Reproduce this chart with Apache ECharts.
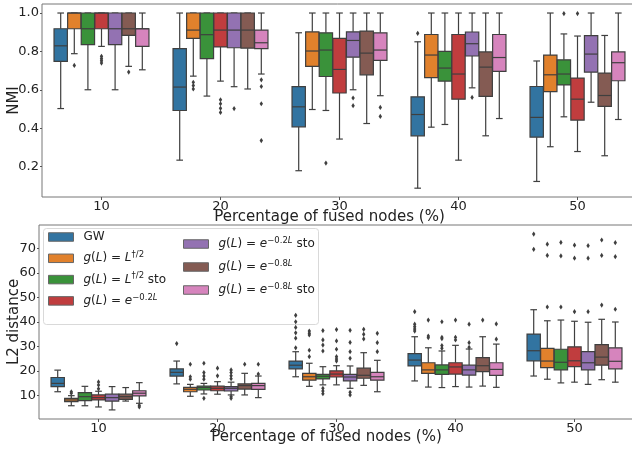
<!DOCTYPE html>
<html>
<head>
<meta charset="utf-8">
<script src="https://cdn.jsdelivr.net/npm/echarts@6/dist/echarts.min.js"></script>
<style>
  html, body { margin: 0; padding: 0; background: #fff; }
  #chart { width: 632px; height: 454px; }
</style>
</head>
<body>
<div id="chart"></div>
<script>
// categories and hue groups
const categories = ['10', '20', '30', '40', '50'];
const hueNames = ['GW', 'g(L) = L^1/2', 'g(L) = L^1/2 sto', 'g(L) = e^-0.2L',
  'g(L) = e^-0.2L sto', 'g(L) = e^-0.8L', 'g(L) = e^-0.8L sto'];
const colors = ['#3274a1', '#e1812c', '#3a923a', '#c03d3e', '#9372b2', '#845b53', '#d684bd'];
const nmiTicks = [0.2, 0.4, 0.6, 0.8, 1.0];
const l2Ticks = [10, 20, 30, 40, 50, 60, 70];

// NMI box stats per category: [lower whisker, q1, median, q3, upper whisker]
const nmiGW = [[0.502, 0.748, 0.829, 0.918, 1.0], [0.233, 0.492, 0.614, 0.814, 1.0], [0.178, 0.407, 0.511, 0.616, 0.897], [0.087, 0.360, 0.471, 0.563, 0.850], [0.122, 0.353, 0.456, 0.617, 0.750]];
const nmiL = [[0.788, 0.918, 1.0, 1.0, 1.0], [0.671, 0.868, 0.911, 1.0, 1.0], [0.497, 0.722, 0.802, 0.902, 1.0], [0.405, 0.663, 0.781, 0.888, 1.0], [0.303, 0.590, 0.678, 0.781, 1.0]];
const nmiLsto = [[0.600, 0.835, 0.918, 1.0, 1.0], [0.567, 0.762, 0.887, 1.0, 1.0], [0.492, 0.669, 0.807, 0.897, 1.0], [0.419, 0.645, 0.713, 0.800, 1.0], [0.459, 0.625, 0.682, 0.756, 0.891]];
const nmiE2 = [[0.826, 0.918, 1.0, 1.0, 1.0], [0.645, 0.823, 0.911, 1.0, 1.0], [0.343, 0.583, 0.706, 0.868, 1.0], [0.233, 0.551, 0.682, 0.888, 1.0], [0.278, 0.442, 0.551, 0.661, 0.880]];
const nmiE2sto = [[0.600, 0.835, 0.918, 1.0, 1.0], [0.616, 0.819, 0.911, 1.0, 1.0], [0.600, 0.770, 0.857, 0.902, 1.0], [0.610, 0.776, 0.840, 0.901, 1.0], [0.535, 0.692, 0.786, 0.882, 1.0]];
const nmiE8 = [[0.722, 0.883, 0.918, 1.0, 1.0], [0.604, 0.817, 0.911, 1.0, 1.0], [0.424, 0.678, 0.791, 0.906, 1.0], [0.360, 0.565, 0.718, 0.797, 1.0], [0.256, 0.513, 0.570, 0.687, 0.883]];
const nmiE8sto = [[0.704, 0.826, 0.918, 0.918, 1.0], [0.682, 0.814, 0.845, 0.911, 1.0], [0.569, 0.753, 0.807, 0.897, 1.0], [0.450, 0.696, 0.768, 0.888, 1.0], [0.445, 0.647, 0.741, 0.797, 1.0]];

// NMI outliers per category
const nmiGWOut = [[], [], [], [0.894], []];
const nmiLOut = [[0.727], [0.639, 0.622, 0.604], [], [], []];
const nmiLstoOut = [[], [], [0.218], [], [0.997]];
const nmiE2Out = [[0.774, 0.762, 0.751, 0.739], [0.548, 0.527, 0.503, 0.482], [], [], [0.997]];
const nmiE2stoOut = [[], [0.502], [0.557, 0.517], [0.560], []];
const nmiE8Out = [[0.692], [], [], [], []];
const nmiE8stoOut = [[], [0.652, 0.617, 0.527, 0.335], [0.508, 0.461], [], []];

// L2 distance box stats per category
const l2GW = [[11.6, 13.7, 15.0, 17.4, 20.4], [14.8, 18.0, 19.5, 20.9, 24.1], [17.7, 20.9, 22.4, 24.1, 27.9], [16.0, 22.1, 24.5, 27.1, 34.0], [18.0, 24.2, 28.3, 35.1, 45.0]];
const l2L = [[5.9, 7.6, 8.25, 8.9, 10.0], [9.75, 11.6, 12.6, 13.4, 14.6], [13.8, 16.3, 17.7, 19.1, 23.2], [13.5, 19.1, 20.5, 23.4, 29.5], [16.7, 21.4, 24.1, 29.3, 40.5]];
const l2Lsto = [[5.9, 8.0, 9.6, 11.2, 13.8], [10.7, 12.3, 13.3, 13.9, 15.0], [14.4, 16.8, 17.9, 18.7, 21.8], [13.3, 18.7, 20.5, 22.5, 28.2], [15.2, 20.5, 23.6, 28.9, 40.8]];
const l2E2 = [[5.4, 8.25, 9.2, 10.3, 11.8], [10.6, 12.0, 13.0, 13.9, 15.7], [14.4, 17.6, 18.8, 20.1, 22.2], [13.7, 18.8, 21.7, 23.4, 30.5], [15.5, 21.8, 24.2, 29.9, 40.3]];
const l2E2sto = [[4.2, 7.8, 9.2, 10.6, 13.7], [10.3, 11.9, 13.0, 13.7, 15.5], [13.0, 16.0, 17.6, 18.7, 22.1], [13.5, 18.4, 20.5, 22.4, 29.0], [14.6, 20.5, 23.4, 27.9, 39.9]];
const l2E8 = [[7.8, 8.5, 9.6, 10.6, 13.3], [10.3, 12.7, 14.1, 14.8, 19.1], [14.2, 17.1, 18.3, 21.2, 27.5], [13.9, 19.8, 22.2, 25.5, 34.0], [16.5, 22.4, 25.7, 30.8, 41.1]];
const l2E8sto = [[6.9, 9.9, 11.0, 12.0, 15.3], [9.2, 12.6, 14.1, 15.0, 18.0], [11.6, 16.3, 17.7, 19.5, 24.4], [13.4, 18.3, 20.7, 23.4, 31.0], [15.5, 20.9, 24.0, 29.5, 40.0]];

// L2 distance outliers per category
const l2GWOut = [[], [31.2], [42.7, 40.1, 37.8, 35.6, 33.4, 29.5], [44.2, 39.1, 38.1, 37.1, 36.3], [75.8, 69.6]];
const l2LOut = [[11.6, 11.0], [22.8, 17.7, 16.7], [36.3, 35.4, 34.7, 28.5, 25.9], [40.8, 34.3, 33.6], [71.7, 67.1, 46.1]];
const l2LstoOut = [[], [23.2, 19.4, 18.0, 16.7, 8.9], [36.5, 32.7, 30.6, 28.2, 13.0, 11.9, 10.8], [40.1, 33.8, 33.2, 30.4, 29.3], [72.4, 66.9, 46.1]];
const l2E2Out = [[15.6, 14.3, 12.8], [21.2, 18.1], [36.9, 32.3, 28.9, 25.9, 24.9, 24.1], [40.8, 33.8, 32.7], [71.3, 66.0, 44.2]];
const l2E2stoOut = [[], [20.5, 19.4, 18.1, 16.9, 9.6, 8.9], [36.6, 31.7, 27.9, 25.2, 11.4, 10.3], [39.1, 31.6, 29.7], [71.1, 66.0, 44.2]];
const l2E8Out = [[], [22.8], [37.0, 35.0, 33.1], [40.8], [73.4, 67.1, 46.9]];
const l2E8stoOut = [[6.1, 5.4], [22.8, 18.8], [35.4, 31.6, 27.9], [39.2, 33.0], [72.3, 66.6, 45.2]];

const nmiStats = [nmiGW, nmiL, nmiLsto, nmiE2, nmiE2sto, nmiE8, nmiE8sto];
const nmiOut = [nmiGWOut, nmiLOut, nmiLstoOut, nmiE2Out, nmiE2stoOut, nmiE8Out, nmiE8stoOut];
const l2Stats = [l2GW, l2L, l2Lsto, l2E2, l2E2sto, l2E8, l2E8sto];
const l2Out = [l2GWOut, l2LOut, l2LstoOut, l2E2Out, l2E2stoOut, l2E8Out, l2E8stoOut];

const EDGE = '#3f3f3f';
const FONT = 'DejaVu Sans';
const TEXT = '#222';

// rich legend labels (mathtext look)
const legendLabels = [
  '{n|GW}',
  '{i|g}{n|(}{i|L}{n|) = }{i|L}{s|†/2}',
  '{i|g}{n|(}{i|L}{n|) = }{i|L}{s|†/2}{n| sto}',
  '{i|g}{n|(}{i|L}{n|) = }{i|e}{s|−0.2}{si|L}',
  '{i|g}{n|(}{i|L}{n|) = }{i|e}{s|−0.2}{si|L}{n| sto}',
  '{i|g}{n|(}{i|L}{n|) = }{i|e}{s|−0.8}{si|L}',
  '{i|g}{n|(}{i|L}{n|) = }{i|e}{s|−0.8}{si|L}{n| sto}'
];

function boxRenderer(hue) {
  return function (params, api) {
    const cat = api.value(0);
    const band = api.size([1, 0])[0];
    const step = band * 0.8 / 7;
    const half = step * 0.98 / 2;
    const cx = api.coord([cat, 0])[0] + (hue - 3) * step;
    const y = i => api.coord([cat, api.value(i)])[1];
    const lo = y(1), q1 = y(2), med = y(3), q3 = y(4), hi = y(5);
    const ln = { stroke: EDGE, lineWidth: 1.2 };
    return {
      type: 'group',
      children: [
        { type: 'line', shape: { x1: cx, y1: lo, x2: cx, y2: q1 }, style: ln },
        { type: 'line', shape: { x1: cx, y1: q3, x2: cx, y2: hi }, style: ln },
        { type: 'line', shape: { x1: cx - half / 2, y1: lo, x2: cx + half / 2, y2: lo }, style: ln },
        { type: 'line', shape: { x1: cx - half / 2, y1: hi, x2: cx + half / 2, y2: hi }, style: ln },
        { type: 'rect', shape: { x: cx - half, y: q3, width: half * 2, height: q1 - q3 },
          style: { fill: api.visual('color'), stroke: EDGE, lineWidth: 1.2 } },
        { type: 'line', shape: { x1: cx - half, y1: med, x2: cx + half, y2: med }, style: ln }
      ]
    };
  };
}

function outRenderer(hue) {
  return function (params, api) {
    const cat = api.value(0);
    const band = api.size([1, 0])[0];
    const step = band * 0.8 / 7;
    const p = api.coord([cat, api.value(1)]);
    const x = p[0] + (hue - 3) * step;
    return {
      type: 'polygon',
      shape: { points: [[x, p[1] - 2.6], [x + 1.7, p[1]], [x, p[1] + 2.6], [x - 1.7, p[1]]] },
      style: { fill: EDGE }
    };
  };
}

function buildSeries(stats, outs, axisIdx) {
  const list = [];
  stats.forEach((s, h) => {
    list.push({
      name: hueNames[h], type: 'custom', xAxisIndex: axisIdx, yAxisIndex: axisIdx,
      itemStyle: { color: colors[h] },
      renderItem: boxRenderer(h),
      encode: { x: 0, y: [1, 2, 3, 4, 5] },
      data: s.map((v, c) => [c].concat(v)),
      z: 2
    });
  });
  outs.forEach((o, h) => {
    const pts = [];
    o.forEach((vals, c) => vals.forEach(v => pts.push([c, v])));
    list.push({
      name: hueNames[h], type: 'custom', xAxisIndex: axisIdx, yAxisIndex: axisIdx,
      itemStyle: { color: colors[h] },
      renderItem: outRenderer(h),
      encode: { x: 0, y: 1 },
      data: pts,
      z: 3
    });
  });
  return list;
}

const chart = echarts.init(document.getElementById('chart'), null, { renderer: 'canvas' });

const xAxisBase = {
  type: 'category',
  data: categories,
  axisLine: { show: false },
  axisTick: { show: true, alignWithLabel: true, length: 3, lineStyle: { color: '#555' } },
  axisLabel: { color: TEXT, fontSize: 13, fontFamily: FONT, margin: 3 },
  splitLine: { show: false },
  name: 'Percentage of fused nodes (%)',
  nameLocation: 'middle',
  nameMoveOverlap: false,
  nameTextStyle: { color: TEXT, fontSize: 15, fontFamily: FONT, padding: [0, 20, 0, 0] }
};

const richStyles = {
  n: { fontSize: 12, fontFamily: FONT, color: TEXT, lineHeight: 16 },
  i: { fontSize: 12, fontFamily: FONT, color: TEXT, fontStyle: 'italic', lineHeight: 16 },
  s: { fontSize: 8.5, fontFamily: FONT, color: TEXT, lineHeight: 6, verticalAlign: 'top' },
  si: { fontSize: 8.5, fontFamily: FONT, color: TEXT, fontStyle: 'italic', lineHeight: 6, verticalAlign: 'top' },
  gap: { width: 5, lineHeight: 16 }
};

const legendBase = {
  orient: 'vertical',
  padding: 0,
  icon: 'rect',
  itemWidth: 25,
  itemHeight: 8.5,
  itemStyle: { borderColor: '#666', borderWidth: 1 },
  selectedMode: false,
  formatter: name => '{gap| }' + legendLabels[hueNames.indexOf(name)],
  textStyle: { rich: richStyles }
};

chart.setOption({
  animation: false,
  backgroundColor: '#fff',
  grid: [
    { left: 42, top: 4, width: 595, height: 193, outerBoundsMode: 'none', containLabel: false,
      show: true, borderColor: '#777', borderWidth: 1, backgroundColor: 'transparent' },
    { left: 39, top: 225, width: 595, height: 194, outerBoundsMode: 'none', containLabel: false,
      show: true, borderColor: '#777', borderWidth: 1, backgroundColor: 'transparent' }
  ],
  xAxis: [
    Object.assign({}, xAxisBase, { gridIndex: 0, nameGap: 13 }),
    Object.assign({}, xAxisBase, { gridIndex: 1, nameGap: 11 })
  ],
  yAxis: [
    {
      type: 'value', gridIndex: 0, min: 0.041, max: 1.047,
      axisLine: { show: false },
      axisTick: { show: true, length: 2, customValues: nmiTicks, lineStyle: { color: '#555' } },
      axisLabel: { customValues: nmiTicks, color: TEXT, fontSize: 13, fontFamily: FONT, margin: 3, formatter: v => v.toFixed(1) },
      splitLine: { show: false },
      name: 'NMI', nameLocation: 'middle', nameGap: 20, nameMoveOverlap: false,
      nameTextStyle: { color: TEXT, fontSize: 15, fontFamily: FONT }
    },
    {
      type: 'value', gridIndex: 1, min: 0.5, max: 79.5,
      axisLine: { show: false },
      axisTick: { show: true, length: 2, customValues: l2Ticks, lineStyle: { color: '#555' } },
      axisLabel: { customValues: l2Ticks, color: TEXT, fontSize: 13, fontFamily: FONT, margin: 3 },
      splitLine: { show: false },
      name: 'L2 distance', nameLocation: 'middle', nameGap: 17, nameMoveOverlap: false,
      nameTextStyle: { color: TEXT, fontSize: 15, fontFamily: FONT }
    }
  ],
  legend: [
    Object.assign({}, legendBase, { left: 48, top: 231, itemGap: 7.3, data: hueNames.slice(0, 4) }),
    Object.assign({}, legendBase, { left: 183, top: 236, itemGap: 9, data: hueNames.slice(4) })
  ],
  graphic: [{
    type: 'rect', z: 3,
    shape: { x: 43.5, y: 228.5, width: 275, height: 96, r: 3 },
    style: { fill: 'rgba(255,255,255,0.85)', stroke: '#d9d9d9', lineWidth: 1 }
  }],
  series: buildSeries(nmiStats, nmiOut, 0).concat(buildSeries(l2Stats, l2Out, 1))
});
</script>
</body>
</html>
